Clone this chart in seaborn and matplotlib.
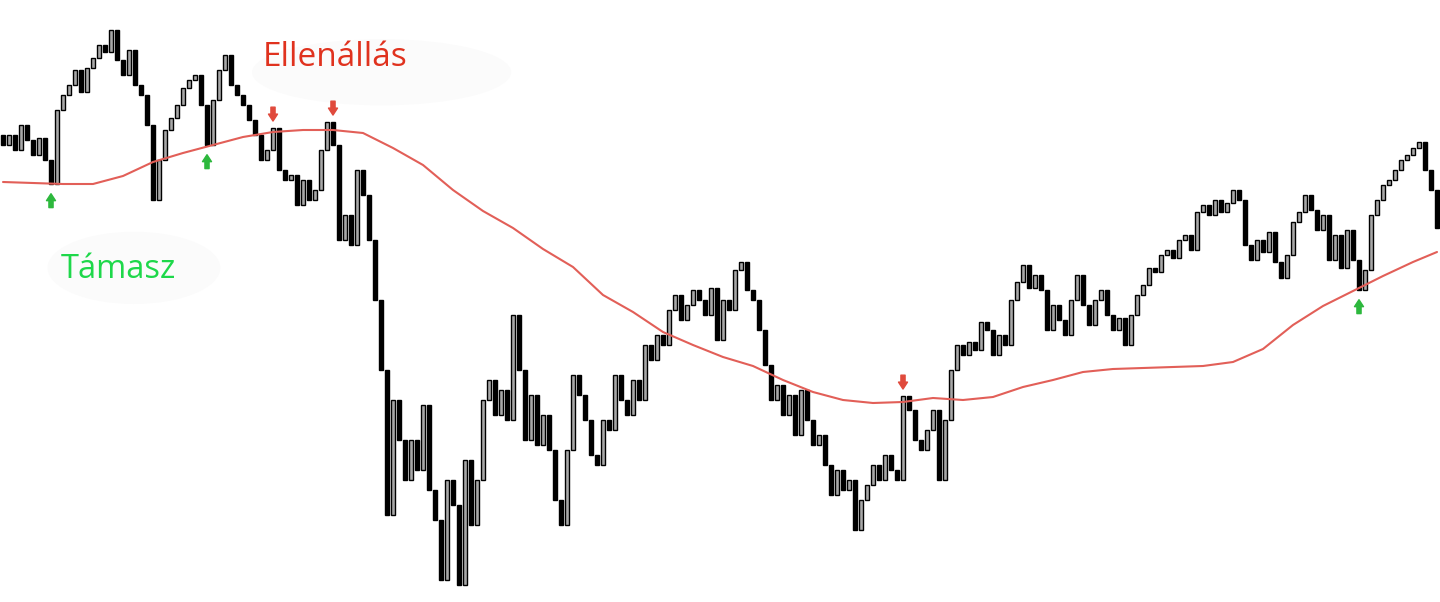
import numpy as np
import pandas as pd
import matplotlib
matplotlib.use("Agg")
import matplotlib.pyplot as plt
from matplotlib.patches import Ellipse
import seaborn as sns

# closing prices, one per candle (open = previous close)
closes = [455, 465, 450, 475, 460, 445, 462, 440, 416, 490,
          505, 515, 530, 508, 532, 542, 555, 548, 570, 540,
          525, 550, 515, 505, 475, 400, 440, 470, 482, 495,
          512, 520, 525, 495, 455, 500, 530, 545, 515, 505,
          495, 480, 465, 440, 450, 472, 430, 420, 425, 395,
          420, 400, 410, 450, 478, 455, 360, 385, 355, 430,
          405, 360, 300, 230, 85, 200, 160, 120, 160, 130,
          195, 110, 80, 20, 120, 95, 15, 140, 75, 120,
          200, 220, 185, 210, 180, 285, 230, 160, 205, 155,
          185, 150, 100, 75, 150, 225, 205, 180, 145, 135,
          180, 170, 225, 200, 185, 220, 200, 255, 240, 265,
          255, 290, 305, 280, 295, 310, 300, 285, 312, 260,
          300, 290, 330, 338, 310, 300, 270, 235, 200, 215,
          185, 205, 165, 210, 180, 155, 165, 135, 105, 130,
          110, 120, 70, 100, 115, 135, 120, 145, 130, 120,
          204, 190, 160, 150, 170, 190, 120, 180, 230, 255,
          245, 258, 250, 278, 270, 245, 265, 255, 300, 318,
          335, 312, 325, 310, 270, 295, 280, 265, 300, 325,
          295, 275, 300, 310, 285, 270, 282, 255, 285, 305,
          315, 332, 328, 345, 350, 342, 360, 365, 350, 388,
          395, 385, 400, 388, 397, 410, 400, 355, 340, 360,
          348, 368, 338, 322, 345, 378, 388, 405, 390, 370,
          385, 340, 365, 332, 370, 340, 310, 330, 385, 400,
          415, 420, 430, 440, 445, 452, 458, 430, 410, 372]

# long moving average, read every 5 candles
ma_idx = list(range(0, 240, 5)) + [239]
ma_vals = [418, 417, 416, 416, 424, 438, 447, 455, 463, 468,
           470, 470, 467, 452, 435, 410, 389, 372, 351, 333,
           305, 288, 268, 255, 243, 234, 220, 208, 200, 197,
           198, 202, 200, 203, 213, 220, 228, 231, 232, 233,
           234, 238, 251, 275, 294, 309, 324, 338, 348]

# candles where the price bounced off the average
resist_idx = [45, 55, 150]
support_idx = [8, 34, 226]

n = len(closes)
df = pd.DataFrame({"idx": np.arange(n), "close": closes})
df["open"] = df["close"].shift(1).fillna(df["close"].iloc[0] + 10)
df["top"] = df[["open", "close"]].max(axis=1)
df["bot"] = df[["open", "close"]].min(axis=1)
df["up"] = df["close"] > df["open"]

sns.set_theme(style="white")
plt.rcParams["font.family"] = ["Open Sans", "DejaVu Sans"]

fig = plt.figure(figsize=(14.4, 6.02), dpi=100)
ax = fig.add_axes([0, 0, 1, 1])

# faint blobs behind the labels
ax.add_patch(Ellipse((0.265, 0.88), 0.18, 0.11, transform=ax.transAxes,
                     facecolor="#fbfbfb", edgecolor="none", zorder=0))
ax.add_patch(Ellipse((0.093, 0.555), 0.12, 0.12, transform=ax.transAxes,
                     facecolor="#fbfbfb", edgecolor="none", zorder=0))

# candles
colors = np.where(df["up"], "#a8a8a8", "black")
ax.bar(df["idx"], df["top"] - df["bot"], bottom=df["bot"], width=0.55,
       color=colors, edgecolor="black", linewidth=1.0, zorder=2)

ma = pd.DataFrame({"idx": ma_idx, "ma": ma_vals})
sns.lineplot(data=ma, x="idx", y="ma", ax=ax, color="#e25f58",
             linewidth=1.5, zorder=3)

for i in resist_idx:
    ax.annotate("", xy=(i, df["top"][i]), xytext=(0, 15),
                textcoords="offset points",
                arrowprops=dict(arrowstyle="simple,head_width=0.65,head_length=0.5,tail_width=0.3",
                                color="#e04a3c", mutation_scale=10,
                                shrinkA=0, shrinkB=5))
for i in support_idx:
    ax.annotate("", xy=(i, df["bot"][i]), xytext=(0, -17),
                textcoords="offset points",
                arrowprops=dict(arrowstyle="simple,head_width=0.65,head_length=0.5,tail_width=0.3",
                                color="#2db83d", mutation_scale=10,
                                shrinkA=0, shrinkB=7))

ax.text(0.233, 0.905, "Ellenállás", transform=ax.transAxes, color="#e0321e",
        fontsize=24, ha="center", va="center")
ax.text(0.082, 0.552, "Támasz", transform=ax.transAxes, color="#1ed84a",
        fontsize=23.5, ha="center", va="center")

ax.set_xlim(-0.5, n - 0.5)
ax.set_ylim(-2, 600)
ax.axis("off")

fig.savefig("out.png", dpi=100, facecolor="white")
